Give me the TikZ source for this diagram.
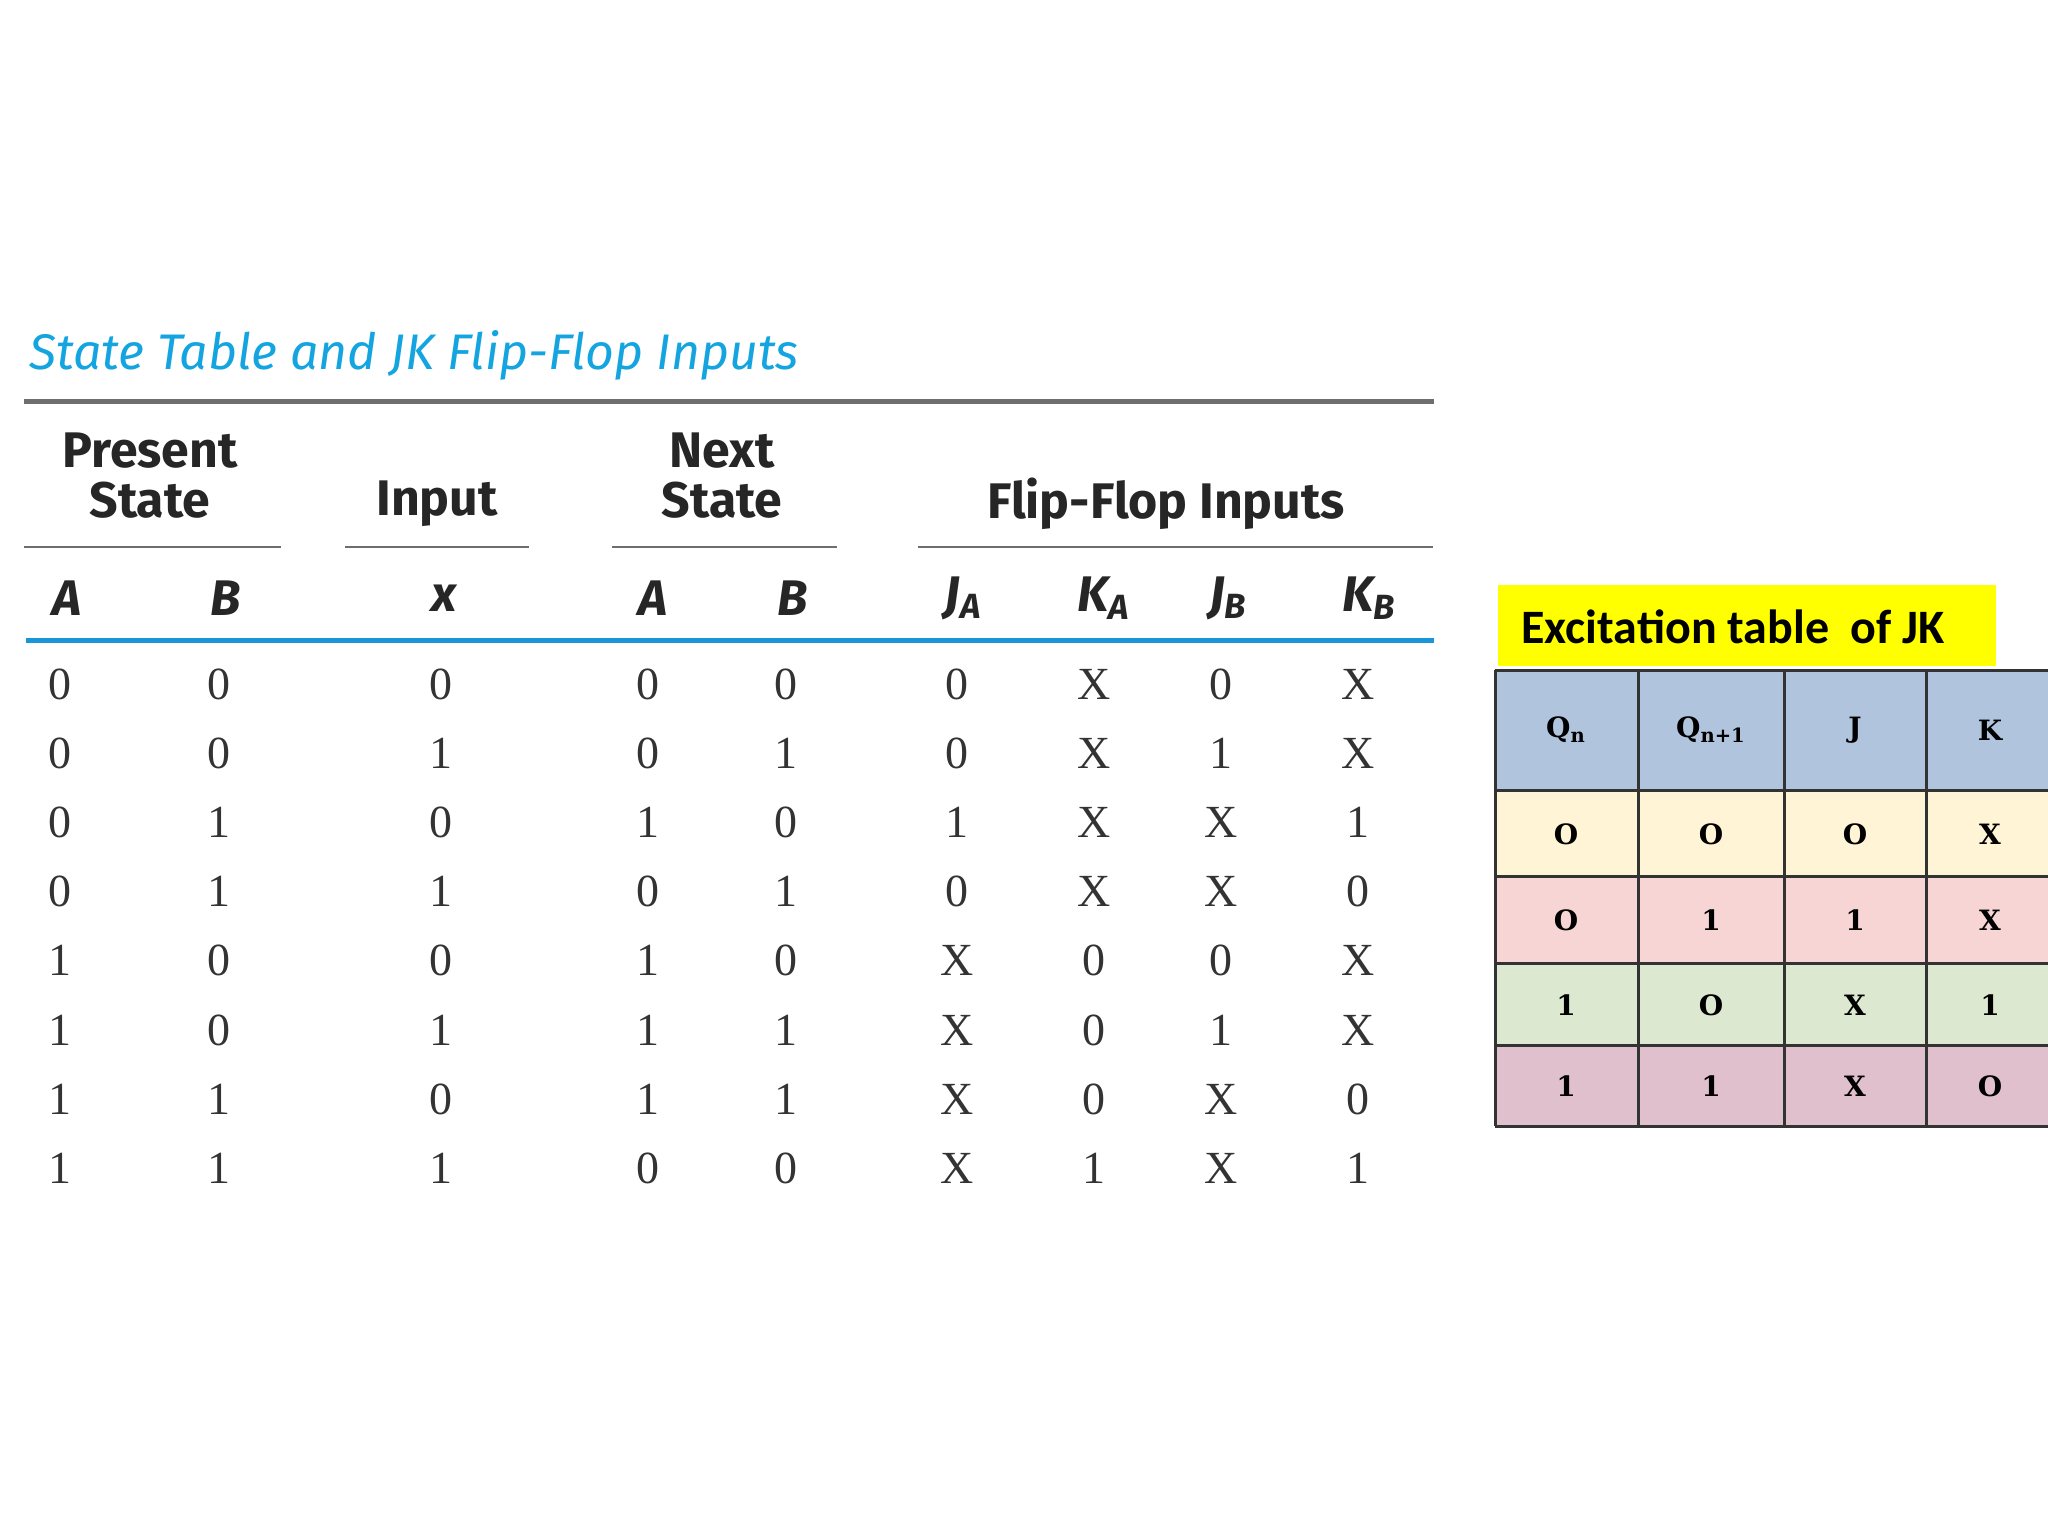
\documentclass[tikz,border=0pt]{standalone}
\usepackage{fontspec}
\setmainfont{Liberation Serif}
\newfontfamily\hdfont{Fira Sans}
\newfontfamily\exfont{Carlito}
\newfontfamily\jkfont{DejaVu Serif}
\definecolor{ttl}{RGB}{20,165,225}
\definecolor{rulegray}{RGB}{110,110,110}
\definecolor{ruleblue}{RGB}{25,150,215}
\definecolor{hdr}{RGB}{176,196,222}
\definecolor{rA}{RGB}{255,244,214}
\definecolor{rB}{RGB}{248,213,213}
\definecolor{rC}{RGB}{221,232,208}
\definecolor{rD}{RGB}{224,192,204}
\definecolor{ylw}{RGB}{255,255,0}
\tikzset{
 grp/.style={font=\hdfont\bfseries\fontsize{25}{25}\selectfont,align=center,text=black!85,inner sep=0pt},
 colh/.style={font=\hdfont\bfseries\itshape\fontsize{25}{25}\selectfont,text=black!85,inner sep=0pt},
 val/.style={font=\fontsize{23}{23}\selectfont,text=black!80,inner sep=0pt},
 jkv/.style={font=\jkfont\bfseries\fontsize{14}{14}\selectfont,inner sep=0pt},
 cell/.style={draw=black!80,line width=1.5pt}
}
\begin{document}
\begin{tikzpicture}[x=0.5pt,y=-0.5pt]
\useasboundingbox (0,0) rectangle (2048,1536);
\fill[white] (0,0) rectangle (2048,1536);
\node[anchor=west,text=ttl,font=\hdfont\itshape\fontsize{25}{25}\selectfont,inner sep=0pt] (title) at (29,355) {State Table and JK Flip-Flop Inputs};
\draw[rulegray,line width=2.5pt] (24,401) coordinate (g1) -- (1434,401) coordinate (g2);
\node[grp] (ps) at (150,476) {Present\\State};
\node[grp] (in) at (437,504) {Input};
\node[grp] (ns) at (722,476) {Next\\State};
\node[grp] (ff) at (1166,504) {Flip-Flop Inputs};
\foreach \a/\b [count=\i] in {24/281,345/529,612/837,918/1433}
  \draw[rulegray,line width=1.2pt] (\a,547) coordinate (u\i a) -- (\b,547) coordinate (u\i b);
\foreach \x/\t [count=\i] in {67/A,226/B,444/x,653/A,793/B,963/J\textsubscript{A},1104/K\textsubscript{A},1228/J\textsubscript{B},1369/K\textsubscript{B}}
  \node[colh] (h\i) at (\x,598) {\t};
\draw[ruleblue,line width=2.5pt] (26,640) coordinate (b1) -- (1434,640) coordinate (b2);
\foreach \row [count=\r from 0] in {
 {0,0,0,0,0,0,X,0,X},{0,0,1,0,1,0,X,1,X},{0,1,0,1,0,1,X,X,1},{0,1,1,0,1,0,X,X,0},
 {1,0,0,1,0,X,0,0,X},{1,0,1,1,1,X,0,1,X},{1,1,0,1,1,X,0,X,0},{1,1,1,0,0,X,1,X,1}}{
  \foreach \v [count=\c] in \row {
    \pgfmathsetmacro\xx{{60,219,441,648,786,957,1094,1221,1358}[\c-1]}
    \node[val] (v\r-\c) at (\xx,{684+69.2*\r}) {\v};
  }
}
% excitation table
\fill[ylw] (1498,585) rectangle (1996,666);
\node[anchor=west,font=\exfont\bfseries\fontsize{24}{24}\selectfont,inner sep=0pt] (ex) at (1521,627) {Excitation table\ \ of JK};
\foreach \ya/\yb/\cl in {670/790/hdr,790/876/rA,876/963/rB,963/1045/rC,1045/1126/rD}
  \fill[\cl] (1495,\ya) rectangle (2048,\yb);
\foreach \y in {670,790,876,963,1045,1126} \draw[cell] (1495,\y) -- (2048,\y);
\foreach \x in {1495,1638,1784,1926} \draw[cell] (\x,670) -- (\x,1126);
\node[jkv] (q1) at (1566,730) {Q\textsubscript{n}};
\node[jkv] (q2) at (1711,730) {Q\textsubscript{n+1}};
\node[jkv] (q3) at (1855,730) {J};
\node[jkv] (q4) at (1990,730) {K};
\foreach \row/\y [count=\r] in {{O,O,O,X}/834,{O,1,1,X}/920,{1,O,X,1}/1005,{1,1,X,O}/1086}{
  \foreach \v/\x [count=\c] in \row {
    \pgfmathsetmacro\xx{{1566,1711,1855,1990}[\c-1]}
    \node[jkv] (e\r-\c) at (\xx,\y) {\v};
  }
}
\end{tikzpicture}
\end{document}
